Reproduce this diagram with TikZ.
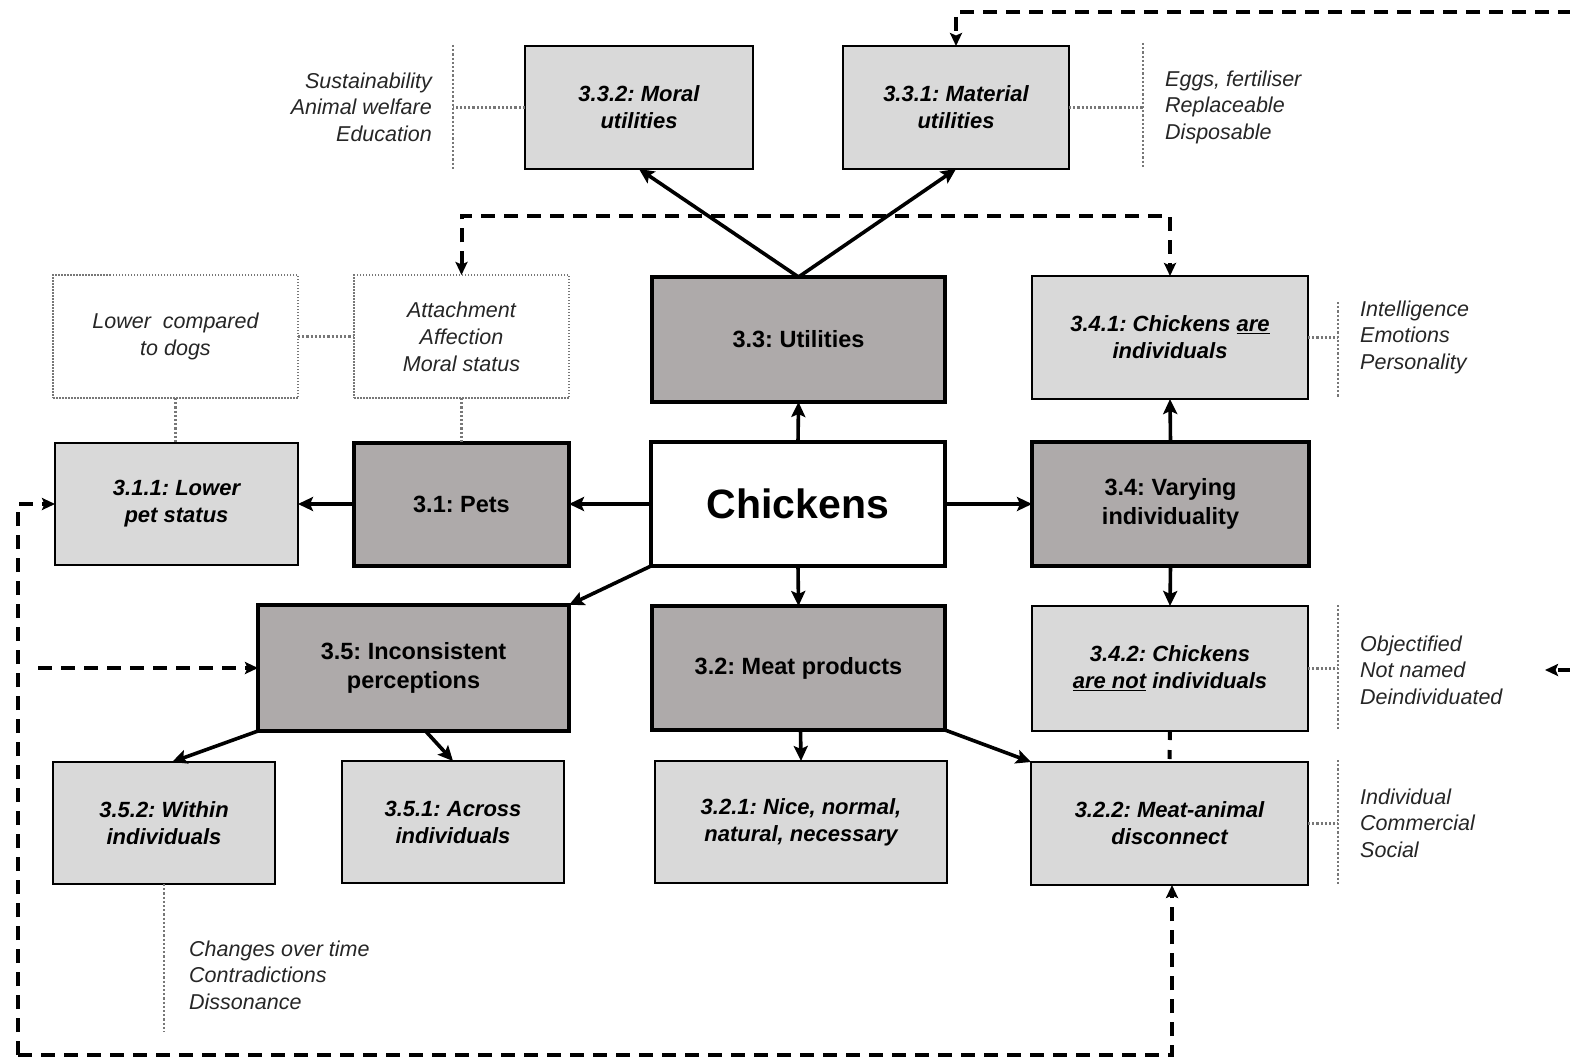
\documentclass[tikz,border=0pt]{standalone}
\usepackage{fontspec}
\setmainfont{Liberation Sans}
\usetikzlibrary{arrows.meta,calc}
\definecolor{lightg}{HTML}{D9D9D9}
\definecolor{darkg}{HTML}{AEAAAA}
\definecolor{dotg}{HTML}{777777}
\frenchspacing
\begin{document}
\begin{tikzpicture}[x=1pt,y=-1pt,
 box/.style={draw, align=center, inner sep=0pt, outer sep=0pt},
 light/.style={box, fill=lightg, line width=1.3pt, font=\fontsize{22}{27}\selectfont\bfseries\itshape},
 dark/.style={box, fill=darkg, line width=4pt, font=\fontsize{23.5}{29}\selectfont\bfseries},
 note/.style={box, fill=white, draw=dotg, dash pattern=on 1.5pt off 1.5pt, line width=1.3pt, font=\fontsize{21.5}{27}\selectfont\itshape, text=black!85},
 desc/.style={inner sep=0pt, font=\fontsize{21.5}{26.5}\selectfont\itshape, text=black!85},
 dotl/.style={draw=dotg, line width=2.3pt, dash pattern=on 2.2pt off 2pt},
 arr/.style={line width=3.6pt, -{Stealth[length=15pt,width=14pt,inset=3pt]}},
 dashline/.style={line width=4pt, dash pattern=on 14pt off 9pt},
 dtip/.tip={Stealth[length=13pt,width=12pt,inset=2.5pt]},
]
\useasboundingbox (0,0) rectangle (1570,1062);
\fill[white] (0,0) rectangle (1570,1062);

% top row
\node[light, minimum width=228, minimum height=123] (m332) at (639,107.5) {3.3.2: Moral\\utilities};
\node[light, minimum width=226, minimum height=123] (m331) at (956,107.5) {3.3.1: Material\\utilities};
\node[desc, anchor=east, align=right] (d332) at (432,107) {Sustainability\\Animal welfare\\Education};
\node[desc, anchor=west, align=left] (d331) at (1165,107) {Eggs, fertiliser\\Replaceable\\Disposable};
\draw[dotl] (453,45) -- (453,170);
\draw[dotl] (m332.west) -- +(-72,0);
\draw[dotl] (1143,43) -- (1143,167);
\draw[dotl] (m331.east) -- +(74,0);

% second row
\node[dark, minimum width=293, minimum height=125] (c33) at (798.5,339.5) {3.3: Utilities};
\node[note, minimum width=245, minimum height=123] (n1) at (175.5,336.5) {Lower\ \ compared\\to dogs};
\node[note, minimum width=215, minimum height=123] (n2) at (461.5,336.5) {Attachment\\Affection\\Moral status};
\node[light, minimum width=276, minimum height=123] (c341) at (1170,337.5) {3.4.1: Chickens \underline{are}\\individuals};
\node[desc, anchor=west, align=left] (d341) at (1360,337) {Intelligence\\Emotions\\Personality};
\draw[dotl] (n1.east) -- (n2.west);
\draw[dotl] (1338,302) -- (1338,398);
\draw[dotl] (c341.east) -- +(30,0);

% third row
\node[light, minimum width=243, minimum height=122] (c311) at (176.5,504) {3.1.1: Lower\\pet status};
\node[dark, minimum width=215, minimum height=123] (c31) at (461.5,504) {3.1: Pets};
\node[box, fill=white, line width=4pt, minimum width=294, minimum height=124, font=\fontsize{41}{48}\selectfont\bfseries] (chk) at (798,504) {Chickens};
\node[dark, minimum width=277, minimum height=124] (c34) at (1170.5,504) {3.4: Varying\\individuality};
\draw[dotl] (n1.south) -- (n1.south |- c311.north);
\draw[dotl] (n2.south) -- (c31.north);

% fourth row
\node[dark, minimum width=311, minimum height=126] (c35) at (413.5,668) {3.5: Inconsistent\\perceptions};
\node[dark, minimum width=293, minimum height=124] (c32) at (798.5,668) {3.2: Meat products};
\node[light, minimum width=276, minimum height=125] (c342) at (1170,668.5) {3.4.2: Chickens\\\underline{are not} individuals};
\node[desc, anchor=west, align=left] (d342) at (1360,670) {Objectified\\Not named\\Deindividuated};
\draw[dotl] (1338,605) -- (1338,730);
\draw[dotl] (c342.east) -- +(30,0);

% fifth row
\node[light, minimum width=222, minimum height=122] (c352) at (164,823) {3.5.2: Within\\individuals};
\node[light, minimum width=222, minimum height=122] (c351) at (453,822) {3.5.1: Across\\individuals};
\node[light, minimum width=292, minimum height=122] (c321) at (801,822) {3.2.1: Nice, normal,\\natural, necessary};
\node[light, minimum width=277, minimum height=123] (c322) at (1169.5,823.5) {3.2.2: Meat-animal\\disconnect};
\node[desc, anchor=west, align=left] (d352) at (189,975) {Changes over time\\Contradictions\\Dissonance};
\node[desc, anchor=west, align=left] (d322) at (1360,823) {Individual\\Commercial\\Social};
\draw[dotl] (c352.south) -- +(0,148);
\draw[dotl] (1338,760) -- (1338,884);
\draw[dotl] (c322.east) -- +(30,0);

% solid arrows
\draw[arr] (c33.north) -- (m332.south);
\draw[arr] (c33.north) -- (m331.south);
\draw[arr] (chk.north) -- (c33.south);
\draw[arr] (chk.west) -- (c31.east);
\draw[arr] (c31.west) -- (c311.east);
\draw[arr] (chk.east) -- (c34.west);
\draw[arr] (c34.north) -- (c341.south);
\draw[arr] (c34.south) -- (c342.north);
\draw[arr] (chk.south) -- (c32.north);
\draw[arr] (chk.south west) -- (c35.north east);
\draw[arr] (c35.south west) -- ($(c352.north)+(8,0)$);
\draw[arr] ($(c35.south)+(12,0)$) -- (c351.north);
\draw[arr] ($(c32.south)+(2,0)$) -- ($(c321.north)+(0,0)$);
\draw[arr] (c32.south east) -- (c322.north west);

% dashed connectors
\coordinate (ty) at (0,216);
\draw[dashline, dtip-dtip] (n2.north) |- (ty -| c341.north) -- (c341.north);
\coordinate (tr) at (1572,12);
\draw[dashline, -dtip] (tr) -| (m331.north);
\coordinate (bl) at (18,1055);
\draw[dashline, -dtip] (bl) -| ($(c322.south)+(2.5,0)$);
\draw[dashline, -dtip] (bl) |- (c311.west);
\coordinate (l35) at (38,668);
\draw[dashline, -dtip] (l35) -- (c35.west);
\draw[line width=4pt, dash pattern=on 9pt off 10pt] (c342.south) -- (c322.north);
\coordinate (re) at (1572,670);
\coordinate (rt) at (1545,670);
\draw[dashline, -dtip] (re) -- (rt);
\end{tikzpicture}
\end{document}
